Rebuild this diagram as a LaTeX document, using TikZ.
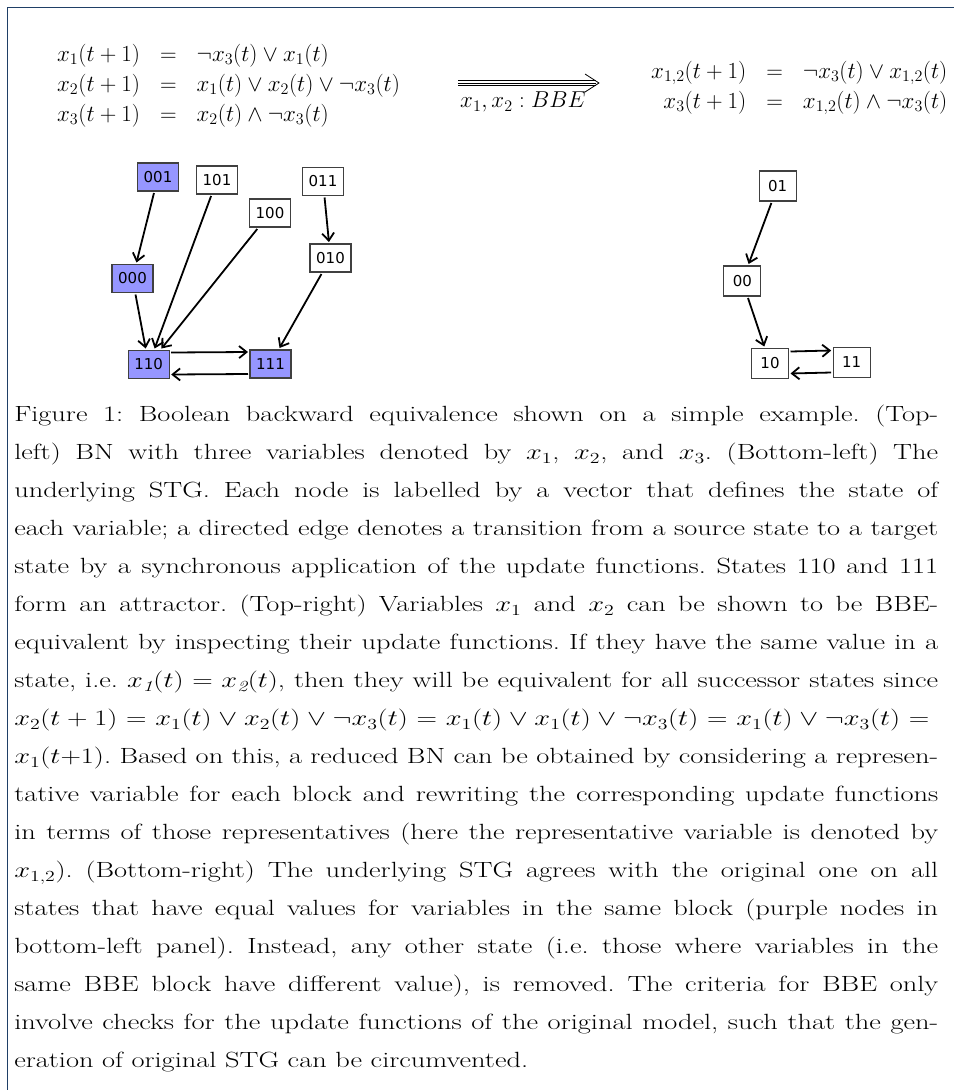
\RequirePackage{fix-cm}
\documentclass[tikz,border=0pt]{standalone}
\usepackage{fontspec}
\usetikzlibrary{arrows.meta}

\newfontfamily\stgfont{DejaVu Sans}
\definecolor{stgpurple}{RGB}{150,150,255}
\definecolor{framecol}{RGB}{31,63,102}
\newcommand\eqsize{\fontsize{23}{30}\selectfont}
\newcommand\capsize{\fontsize{22}{38}\selectfont\frenchspacing}
\newcommand\capline[1]{\hbox to 716pt{#1}}

\tikzset{
  state/.style={draw=black!75, line width=1.3pt, inner sep=0pt, outer sep=2pt,
    minimum width=41pt, minimum height=28pt, font=\fontsize{15}{17}\stgfont},
  redstate/.style={state, minimum width=37pt, minimum height=30pt},
  attr/.style={fill=stgpurple},
  trans/.style={->, line width=1.8pt},
}

\begin{document}
\begin{tikzpicture}[x=1pt, y=-1pt, >={Straight Barb[length=7.5pt,width=12pt]}]
    \useasboundingbox (0,0) rectangle (954,1090);
    \draw[framecol, line width=1.5pt] (7.5,1090) |- (954,7.5);

    % original BN and its reduction
    \node[anchor=west, inner sep=0pt, font=\eqsize] (bnorig) at (47,85)
        {$\arraycolsep=10pt\begin{array}{rcl}
            x_1(t+1) & = & \neg x_3(t)\vee x_1(t)\\
            x_2(t+1) & = & x_1(t)\vee x_2(t)\vee\neg x_3(t)\\
            x_3(t+1) & = & x_2(t)\wedge\neg x_3(t)
        \end{array}$};
    \node[anchor=west, inner sep=0pt, font=\eqsize] (bnred) at (641,87)
        {$\arraycolsep=10pt\begin{array}{rcl}
            x_{1,2}(t+1) & = & \neg x_3(t)\vee x_{1,2}(t)\\
            x_3(t+1) & = & x_{1,2}(t)\wedge\neg x_3(t)
        \end{array}$};

    \coordinate (bbeL) at (458,83);
    \coordinate (bbeR) at (599,83);
    \foreach \dy in {-2.8,0,2.8}
        \draw[line width=0.7pt] ([yshift=\dy pt]bbeL) -- ([xshift=-3pt,yshift=\dy pt]bbeR);
    \draw[line width=0.8pt] ([xshift=-14pt,yshift=9pt]bbeR) -- (bbeR) -- ([xshift=-14pt,yshift=-9pt]bbeR);
    \node[font=\eqsize] (bbelbl) at (523,102) {$x_1,x_2:BBE$};

    % STG of the original BN
    \node[state, attr] (n001) at (158,177) {001};
    \node[state] (n101) at (217,180) {101};
    \node[state] (n100) at (270,213) {100};
    \node[state] (n011) at (323,181.5) {011};
    \node[state] (n010) at (330.5,258) {010};
    \node[state, attr] (n000) at (132.5,278.5) {000};
    \node[state, attr] (n110) at (148.7,364.5) {110};
    \node[state, attr] (n111) at (270.5,364) {111};

    \draw[trans] (n001) -- (n000);
    \draw[trans] (n000) -- (n110);
    \draw[trans] (n101) -- (n110);
    \draw[trans] (n100) -- (n110);
    \draw[trans] (n011) -- (n010);
    \draw[trans] (n010) -- (n111);
    \draw[trans] ([yshift=12pt]n110.east) -- ([yshift=12pt]n111.west);
    \draw[trans] ([yshift=-10pt]n111.west) -- ([yshift=-10pt]n110.east);

    % STG of the reduced BN
    \node[redstate] (r01) at (777.7,186) {01};
    \node[redstate] (r00) at (742.3,281) {00};
    \node[redstate] (r10) at (770,363.5) {10};
    \node[redstate] (r11) at (851.7,362.5) {11};

    \draw[trans] (r01) -- (r00);
    \draw[trans] (r00) -- (r10);
    \draw[trans] ([yshift=12pt]r10.east) -- ([yshift=12pt]r11.west);
    \draw[trans] ([yshift=-10pt]r11.west) -- ([yshift=-10pt]r10.east);

    \node[anchor=base west, inner sep=0pt, font=\capsize, xscale=1.2905, transform shape] (caption) at (14,421.7) {\vtop{%
\capline{Figure 1: Boolean backward equivalence shown on a simple example. (Top-}
\capline{left) BN with three variables denoted by $x_1$, $x_2$, and $x_3$. (Bottom-left) The}
\capline{underlying STG. Each node is labelled by a vector that defines the state of}
\capline{each variable; a directed edge denotes a transition from a source state to a target}
\capline{state by a synchronous application of the update functions. States 110 and 111}
\capline{form an attractor. (Top-right) Variables $x_1$ and $x_2$ can be shown to be BBE-}
\capline{equivalent by inspecting their update functions. If they have the same value in a}
\capline{state, i.e.\ $x_{\mathit{1}}(t)=x_{\mathit{2}}(t)$, then they will be equivalent for all successor states since}
\capline{$x_2(t+1)=x_1(t)\vee x_2(t)\vee\neg x_3(t)=x_1(t)\vee x_1(t)\vee\neg x_3(t)=x_1(t)\vee\neg x_3(t)={}$}
\capline{$x_1(t{+}1)$. Based on this, a reduced BN can be obtained by considering a represen-}
\capline{tative variable for each block and rewriting the corresponding update functions}
\capline{in terms of those representatives (here the representative variable is denoted by}
\capline{$x_{1,2}$). (Bottom-right) The underlying STG agrees with the original one on all}
\capline{states that have equal values for variables in the same block (purple nodes in}
\capline{bottom-left panel). Instead, any other state (i.e.\ those where variables in the}
\capline{same BBE block have different value), is removed. The criteria for BBE only}
\capline{involve checks for the update functions of the original model, such that the gen-}
\hbox{eration of original STG can be circumvented.}}};
\end{tikzpicture}
\end{document}
